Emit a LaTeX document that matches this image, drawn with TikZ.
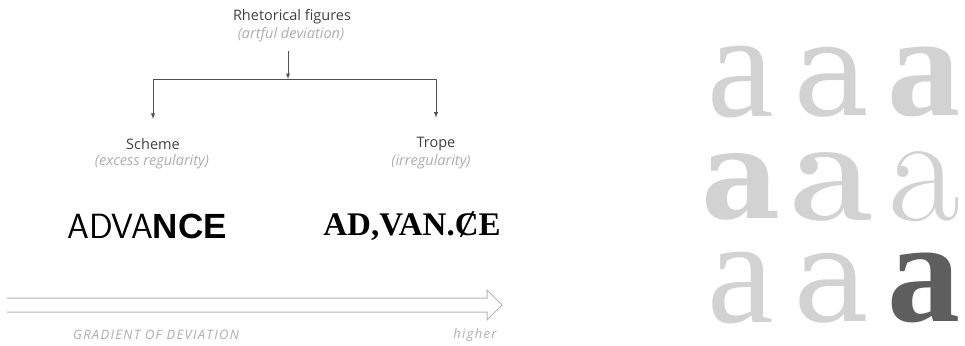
\documentclass[tikz,border=0pt]{standalone}
\usepackage{fontspec}
\setmainfont{Open Sans}
\newfontfamily\timesface{Liberation Serif}
\newfontfamily\dejaface{DejaVu Serif}
\newfontfamily\lmface{Latin Modern Roman}
\newfontfamily\heavyface{Liberation Sans}
\usetikzlibrary{positioning}
\definecolor{linegray}{HTML}{505050}
\definecolor{subgray}{HTML}{ADADAD}
\definecolor{arrowgray}{HTML}{B4B4B4}
\definecolor{lettergray}{HTML}{D2D2D2}
\definecolor{darkletter}{HTML}{5E5E5E}

% faces of the letter a
\newcommand\faceTimes{\timesface\fontsize{150}{150}\selectfont}
\newcommand\faceTimesBold{\timesface\bfseries\fontsize{146}{146}\selectfont}
\newcommand\faceDeja{\dejaface\fontsize{128}{128}\selectfont}
\newcommand\faceDejaBold{\dejaface\bfseries\fontsize{122}{122}\selectfont}
\newcommand\faceLM{\lmface\fontsize{156}{156}\selectfont}
\newcommand\faceLMBold{\lmface\bfseries\fontsize{150}{150}\selectfont}

\begin{document}
\begin{tikzpicture}[x=1pt,y=-1pt,>=latex,draw=linegray,line width=0.9pt]
	\tikzstyle{title}=[font=\fontsize{14.5}{16}\selectfont,text=black!75,inner sep=0pt]
	\tikzstyle{sub}=[font=\fontsize{14.5}{16}\selectfont\itshape,text=subgray,inner sep=0pt]
	\tikzstyle{foot}=[font=\fontsize{13}{15}\selectfont\itshape\addfontfeatures{LetterSpace=10},text=subgray,inner sep=0pt]
	\tikzstyle{letter}=[inner sep=0pt,text=lettergray]
	
	\useasboundingbox (0,0) rectangle (965,345);
	
	% Draw the root of the tree
	\node[title] (root) at (292,17) {Rhetorical figures};
	\node[sub] (root-sub) at (291,35) {(artful deviation)};
	
	% Draw the two branches
	\node[title] (scheme) at (153,144) {Scheme};
	\node[sub] (scheme-sub) at (152,162) {(excess regularity)};
	\node[title] (trope) at (436,144) {Trope};
	\node[sub] (trope-sub) at (431,162) {(irregularity)};
	
	% Connect root with branches
	\coordinate (split) at (288,79);
	\draw[->,shorten <=8pt] (split |- root-sub.south) -- (split);
	\draw (split -| scheme) -- (split -| trope);
	\foreach \dest in {scheme,trope}
	\draw[->,shorten >=19pt] (split -| \dest) -- (\dest.north);
	
	% Draw the two words
	\node[inner sep=0pt] (word-scheme) at (147,226)
	{\fontsize{35}{35}\selectfont\sffamily ADVA\heavyface\bfseries NCE};
	\node[inner sep=0pt] (word-trope) at (412,226)
	{\timesface\bfseries\fontsize{33}{33}\selectfont AD,VAN.ȻE};
	
	% Draw the gradient arrow
	\coordinate (grad-start) at (7,305);
	\coordinate (grad-end) at (502,305);
	\draw[arrowgray,line width=1pt]
	([yshift=-7pt]grad-start) -- ([xshift=-15pt,yshift=-7pt]grad-end)
	-- ([xshift=-15pt,yshift=-15pt]grad-end) -- (grad-end)
	-- ([xshift=-15pt,yshift=15pt]grad-end) -- ([xshift=-15pt,yshift=7pt]grad-end)
	-- ([yshift=7pt]grad-start);
	\node[foot] (grad-label) at (156,335) {GRADIENT OF DEVIATION};
	\node[foot] (grad-high) at (475,335) {higher};
	
	% Draw the grid of letters
	\foreach \name/\x/\y/\face in {1-1/741/82/\faceTimes,1-2/832/82/\faceDeja,1-3/924/82/\faceTimesBold,
		2-1/741/187/\faceDejaBold,2-2/832/187/\faceLMBold,2-3/924/187/\faceLM,
		3-1/741/288/\faceTimes,3-2/832/288/\faceDeja}
	\node[letter,font=\face] (a-\name) at (\x,\y) {a};
	\node[letter,font=\faceTimesBold,text=darkletter] (a-3-3) at (924,288) {a};
	
\end{tikzpicture}
\end{document}
